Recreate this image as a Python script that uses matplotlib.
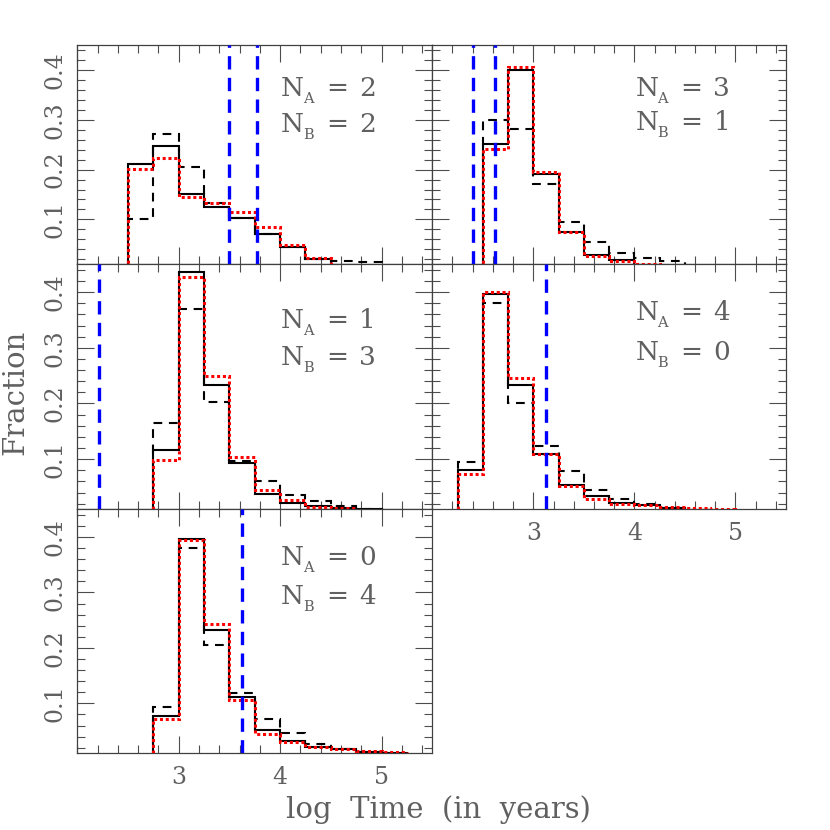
import matplotlib
matplotlib.use('Agg')
import matplotlib.pyplot as plt
import matplotlib.transforms as mtransforms
import numpy as np
from matplotlib.ticker import MultipleLocator

plt.rcParams['font.family'] = ['DejaVu Serif']
plt.rcParams['mathtext.fontset'] = 'dejavuserif'

# ---------------- data ----------------
bin_width = 0.25
panel_NA = [2, 3, 1, 4, 0]
panel_NB = [2, 1, 3, 0, 4]
bin_start = [2.5, 2.5, 2.75, 2.25, 2.75]

solid_vals = [
    [0.212, 0.247, 0.150, 0.124, 0.103, 0.071, 0.044, 0.020, 0.008, 0.005],
    [0.251, 0.399, 0.191, 0.074, 0.029, 0.019, 0.008],
    [0.117, 0.436, 0.234, 0.094, 0.038, 0.022, 0.016, 0.013, 0.011],
    [0.080, 0.397, 0.233, 0.109, 0.053, 0.033, 0.022, 0.017, 0.013, 0.008],
    [0.077, 0.397, 0.233, 0.112, 0.052, 0.033, 0.022, 0.018, 0.013, 0.010],
]
dashed_vals = [
    [0.100, 0.271, 0.205, 0.133, 0.102, 0.071, 0.044, 0.020, 0.017, 0.014],
    [0.300, 0.281, 0.172, 0.094, 0.055, 0.033, 0.023, 0.017],
    [0.165, 0.369, 0.203, 0.096, 0.060, 0.035, 0.025, 0.016, 0.011],
    [0.095, 0.381, 0.200, 0.123, 0.078, 0.045, 0.029, 0.019, 0.013, 0.008],
    [0.093, 0.381, 0.205, 0.119, 0.072, 0.047, 0.027, 0.018, 0.013, 0.009],
]
red_vals = [
    [0.202, 0.223, 0.145, 0.132, 0.115, 0.084, 0.049, 0.023, 0.008],
    [0.242, 0.405, 0.195, 0.075, 0.027, 0.017, 0.010],
    [0.099, 0.427, 0.249, 0.104, 0.044, 0.027, 0.015, 0.013, 0.008],
    [0.073, 0.400, 0.245, 0.109, 0.051, 0.029, 0.019, 0.017, 0.014, 0.012, 0.011],
    [0.071, 0.394, 0.244, 0.107, 0.045, 0.030, 0.022, 0.018, 0.015, 0.012],
]
blue_lines = [[3.50, 3.77], [2.40, 2.62], [2.21], [3.13], [3.62]]

label_y_A = [0.348, 0.348, 0.336, 0.350, 0.349]
label_y_B = [0.276, 0.279, 0.269, 0.278, 0.280]

x_ticklabels = ['3', '4', '5']
x_tickvals = [3, 4, 5]
y_ticklabels = ['0.1', '0.2', '0.3', '0.4']
y_tickvals = [0.1, 0.2, 0.3, 0.4]

xlim = (2.0, 5.5)
ylim = (0.01, 0.45)

# ---------------- layout ----------------
fig = plt.figure(figsize=(8.3, 8.3), dpi=100)
rects = [
    [0.0931, 0.6816, 0.4277, 0.2642],
    [0.5208, 0.6816, 0.4261, 0.2642],
    [0.0931, 0.3864, 0.4277, 0.2952],
    [0.5208, 0.3864, 0.4261, 0.2952],
    [0.0931, 0.0924, 0.4277, 0.2940],
]
show_xlabels = [False, False, False, True, True]
show_ylabels = [True, False, True, False, True]

txt_color = '#606060'


def label(ax, y, sub, val):
    trans = mtransforms.blended_transform_factory(ax.transAxes, ax.transData)
    kw = dict(color=txt_color, va='baseline', ha='left', zorder=6)
    ax.text(0.574, y, 'N', transform=trans, fontsize=19, **kw)
    ax.text(0.574, y, sub, fontsize=10.5,
            transform=mtransforms.offset_copy(trans, fig=fig, x=22, y=-7, units='dots'), **kw)
    ax.text(0.574, y, '=', fontsize=19,
            transform=mtransforms.offset_copy(trans, fig=fig, x=45, y=0, units='dots'), **kw)
    ax.text(0.574, y, str(val), fontsize=19,
            transform=mtransforms.offset_copy(trans, fig=fig, x=78, y=0, units='dots'), **kw)


for i, r in enumerate(rects):
    ax = fig.add_axes(r)
    edges_s = bin_start[i] + bin_width * np.arange(len(solid_vals[i]) + 1)
    edges_d = bin_start[i] + bin_width * np.arange(len(dashed_vals[i]) + 1)
    edges_r = bin_start[i] + bin_width * np.arange(len(red_vals[i]) + 1)

    ax.stairs(solid_vals[i], edges_s, baseline=0, color='black', lw=1.5, zorder=3)
    ax.stairs(dashed_vals[i], edges_d, baseline=0, color='black', lw=1.5,
              linestyle=(0, (4.2, 3.2)), zorder=3)
    ax.stairs(red_vals[i], edges_r, baseline=0, color='red', lw=2.2,
              linestyle=(0, (1.0, 0.9)), zorder=4)
    for xb in blue_lines[i]:
        ax.axvline(xb, color='blue', lw=2.4, linestyle=(0, (4.0, 2.5)), zorder=5)

    ax.set_xlim(*xlim)
    ax.set_ylim(*ylim)

    ax.xaxis.set_major_locator(MultipleLocator(1))
    ax.xaxis.set_minor_locator(MultipleLocator(0.2))
    ax.yaxis.set_major_locator(MultipleLocator(0.1))
    ax.yaxis.set_minor_locator(MultipleLocator(0.02))
    ax.tick_params(which='both', direction='in', top=True, right=True,
                   color='0.3', width=0.8)
    ax.tick_params(which='major', length=12)
    ax.tick_params(which='minor', length=6)

    if show_xlabels[i]:
        ax.set_xticks(x_tickvals)
        ax.set_xticklabels(x_ticklabels, fontsize=17, color=txt_color)
        ax.tick_params(axis='x', which='major', pad=9)
    else:
        ax.set_xticklabels([])
    if show_ylabels[i]:
        ax.set_yticks(y_tickvals)
        ax.set_yticklabels(y_ticklabels, fontsize=17, color=txt_color,
                           rotation=90, va='center')
        ax.tick_params(axis='y', which='major', pad=8)
    else:
        ax.set_yticklabels([])

    for sp in ax.spines.values():
        sp.set_color('0.25')
        sp.set_linewidth(0.9)

    label(ax, label_y_A[i], 'A', panel_NA[i])
    label(ax, label_y_B[i], 'B', panel_NB[i])

fig.text(438 / 830, 1 - 810 / 830, 'log  Time  (in  years)', fontsize=21,
         color=txt_color, ha='center', va='center')
fig.text(15 / 830, 1 - 392 / 830, 'Fraction', fontsize=21, color=txt_color,
         ha='center', va='center', rotation=90)

fig.savefig('out.png', dpi=100)
